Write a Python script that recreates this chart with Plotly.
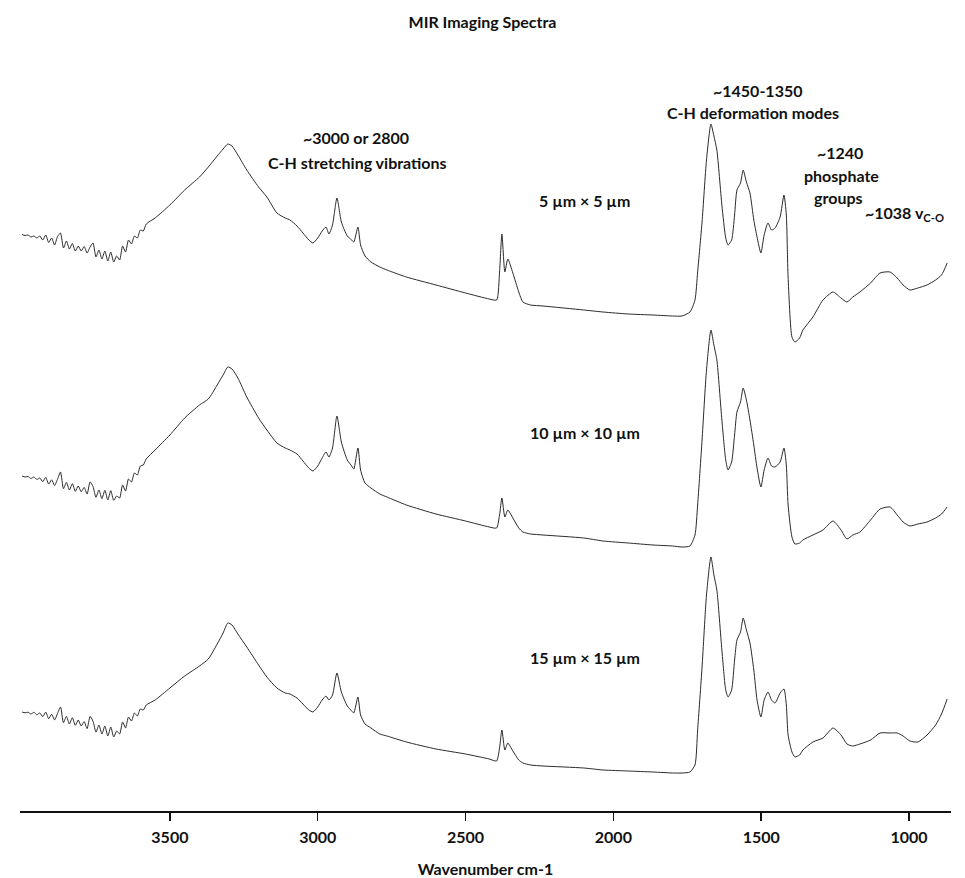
import plotly.graph_objects as go

# Shared wavenumber grid (cm-1)
wavenumber = [
    4000, 3990, 3980, 3970, 3960, 3950, 3940, 3930, 3920, 3910,
    3900, 3890, 3880, 3870, 3860, 3850, 3840, 3830, 3820, 3810,
    3800, 3790, 3780, 3770, 3760, 3750, 3740, 3730, 3720, 3710,
    3700, 3690, 3680, 3670, 3660, 3650, 3640, 3630, 3620, 3610,
    3600, 3590, 3580,
    3550, 3500, 3450, 3400, 3370, 3340, 3320, 3304, 3290, 3270,
    3240, 3200, 3172, 3138, 3110, 3094, 3070, 3050, 3030, 3016,
    3000, 2985, 2972, 2962, 2950, 2935, 2920, 2900, 2885, 2878,
    2864, 2855, 2840, 2820, 2790, 2766, 2700, 2600, 2500, 2420,
    2395, 2385, 2377, 2367, 2357, 2340, 2320, 2306, 2280, 2238,
    2100, 2035, 1950, 1866, 1800, 1768, 1741, 1724, 1715, 1700,
    1685, 1670, 1660, 1650, 1633, 1620, 1612, 1600, 1590, 1582,
    1570, 1561, 1550, 1538, 1525, 1514, 1501, 1490, 1477, 1465,
    1453, 1436, 1423, 1415, 1409, 1396, 1386, 1370, 1359, 1325,
    1291, 1257, 1230, 1210, 1190, 1166, 1130, 1098, 1064, 1040,
    1020, 997, 970, 939, 910, 890, 871,
]

# Stacked absorbance (arbitrary units, vertically offset spectra)
spec_5um = [
    5.765, 5.755, 5.76, 5.74, 5.75, 5.73, 5.75, 5.71, 5.76, 5.685,
    5.73, 5.66, 5.745, 5.78, 5.63, 5.70, 5.62, 5.675, 5.60, 5.65,
    5.60, 5.645, 5.58, 5.64, 5.68, 5.54, 5.61, 5.52, 5.60, 5.50,
    5.59, 5.49, 5.55, 5.51, 5.65, 5.59, 5.71, 5.67, 5.75, 5.73,
    5.81, 5.80, 5.87,
    5.93, 6.06, 6.21, 6.34, 6.44, 6.55, 6.62, 6.67, 6.65, 6.56,
    6.41, 6.24, 6.14, 5.98, 5.93, 5.91, 5.85, 5.78, 5.71, 5.68,
    5.73, 5.80, 5.84, 5.77, 5.86, 6.13, 5.89, 5.75, 5.71, 5.69,
    5.84, 5.66, 5.55, 5.49, 5.44, 5.41, 5.34, 5.26, 5.18, 5.12,
    5.11, 5.39, 5.77, 5.39, 5.52, 5.38, 5.19, 5.09, 5.06, 5.05,
    5.01, 4.99, 4.97, 4.96, 4.95, 4.95, 4.99, 5.11, 5.39, 5.89,
    6.51, 6.87, 6.75, 6.61, 6.06, 5.73, 5.66, 5.71, 5.96, 6.21,
    6.28, 6.41, 6.29, 6.18, 5.91, 5.74, 5.58, 5.76, 5.88, 5.81,
    5.83, 5.94, 6.16, 5.96, 5.34, 4.74, 4.69, 4.73, 4.81, 4.94,
    5.11, 5.19, 5.13, 5.09, 5.14, 5.19, 5.28, 5.38, 5.39, 5.33,
    5.26, 5.21, 5.23, 5.26, 5.31, 5.36, 5.48,
]

spec_10um = [
    3.35, 3.34, 3.345, 3.325, 3.34, 3.315, 3.33, 3.293, 3.336, 3.269,
    3.312, 3.255, 3.318, 3.39, 3.223, 3.287, 3.21, 3.273, 3.197, 3.25,
    3.193, 3.236, 3.169, 3.291, 3.244, 3.137, 3.21, 3.123, 3.207, 3.11,
    3.203, 3.107, 3.15, 3.13, 3.26, 3.20, 3.32, 3.29, 3.38, 3.36,
    3.45, 3.46, 3.52,
    3.61, 3.76, 3.93, 4.06, 4.12, 4.26, 4.36, 4.44, 4.42, 4.33,
    4.14, 3.93, 3.81, 3.68, 3.63, 3.61, 3.57, 3.50, 3.43, 3.40,
    3.45, 3.53, 3.59, 3.54, 3.63, 3.95, 3.69, 3.51, 3.45, 3.42,
    3.63, 3.41, 3.28, 3.23, 3.17, 3.14, 3.06, 2.97, 2.90, 2.84,
    2.83, 2.96, 3.13, 2.94, 3.01, 2.93, 2.83, 2.79, 2.77, 2.76,
    2.73, 2.70, 2.68, 2.66, 2.65, 2.64, 2.65, 2.76, 3.06, 3.71,
    4.41, 4.81, 4.66, 4.51, 3.91, 3.51, 3.41, 3.49, 3.76, 3.99,
    4.09, 4.23, 4.11, 3.91, 3.66, 3.43, 3.24, 3.41, 3.53, 3.45,
    3.44, 3.49, 3.63, 3.46, 3.06, 2.74, 2.67, 2.68, 2.71, 2.76,
    2.81, 2.90, 2.81, 2.72, 2.76, 2.79, 2.91, 3.02, 3.04, 2.96,
    2.89, 2.85, 2.87, 2.89, 2.93, 2.97, 3.04,
]

spec_15um = [
    0.99, 0.982, 0.988, 0.97, 0.987, 0.963, 0.98, 0.944, 0.989, 0.923,
    0.967, 0.911, 0.976, 1.04, 0.883, 0.947, 0.87, 0.933, 0.857, 0.91,
    0.851, 0.893, 0.824, 0.946, 0.897, 0.789, 0.86, 0.77, 0.85, 0.75,
    0.84, 0.74, 0.80, 0.77, 0.89, 0.83, 0.94, 0.90, 0.98, 0.95,
    1.02, 1.01, 1.06,
    1.11, 1.23, 1.35, 1.45, 1.52, 1.67, 1.78, 1.88, 1.86, 1.77,
    1.64, 1.46, 1.34, 1.23, 1.18, 1.17, 1.13, 1.07, 1.01, 0.99,
    1.04, 1.11, 1.15, 1.11, 1.16, 1.38, 1.19, 1.05, 1.00, 0.98,
    1.14, 0.96, 0.87, 0.83, 0.77, 0.75, 0.69, 0.62, 0.57, 0.52,
    0.50, 0.63, 0.81, 0.61, 0.68, 0.60, 0.51, 0.48, 0.46, 0.45,
    0.43, 0.41, 0.40, 0.39, 0.38, 0.38, 0.39, 0.46, 0.81, 1.44,
    2.16, 2.54, 2.36, 2.21, 1.61, 1.21, 1.14, 1.21, 1.51, 1.71,
    1.79, 1.93, 1.81, 1.68, 1.41, 1.11, 0.94, 1.11, 1.19, 1.11,
    1.08, 1.18, 1.22, 1.06, 0.76, 0.59, 0.54, 0.56, 0.61, 0.69,
    0.73, 0.83, 0.76, 0.67, 0.65, 0.67, 0.71, 0.78, 0.78, 0.78,
    0.75, 0.70, 0.69, 0.76, 0.86, 0.97, 1.12,
]

series_names = ["5 µm × 5 µm", "10 µm × 10 µm", "15 µm × 15 µm"]
tick_values = [3500, 3000, 2500, 2000, 1500, 1000]

FONT = "Lato, 'Open Sans', sans-serif"

fig = go.Figure()
for name, ys in zip(series_names, [spec_5um, spec_10um, spec_15um]):
    fig.add_trace(go.Scatter(
        x=wavenumber, y=ys, mode="lines", name=name,
        line=dict(color="#2b2b2b", width=1, shape="spline", smoothing=0.6),
        showlegend=False, hoverinfo="skip",
    ))

bold = dict(family=FONT, size=16, color="#111111", weight="bold")

annotations = [
    ("~3000 or 2800", 2871, 6.74, "center"),
    ("C-H stretching vibrations", 2867, 6.49, "center"),
    (series_names[0], 2096, 6.11, "center"),
    (series_names[1], 2096, 3.79, "center"),
    (series_names[2], 2096, 1.54, "center"),
    ("~1450-1350", 1511, 7.21, "center"),
    ("C-H deformation modes", 1528, 6.99, "center"),
    ("~1240", 1233, 6.59, "center"),
    ("phosphate", 1230, 6.36, "center"),
    ("groups", 1237, 6.14, "center"),
    ("~1038 v<sub>C-O</sub>", 1155, 5.98, "left"),
]
for text, x, y, xa in annotations:
    fig.add_annotation(
        x=x, y=y, xref="x", yref="y", text=text, showarrow=False,
        xanchor=xa, yanchor="middle", font=bold,
    )

fig.update_layout(
    width=965, height=878,
    margin=dict(l=20, r=14, t=60, b=67),
    paper_bgcolor="white", plot_bgcolor="white",
    title=dict(
        text="MIR Imaging Spectra", x=0.5, xanchor="center",
        y=1 - 22 / 878, yanchor="middle", yref="container",
        font=dict(family=FONT, size=16, color="#111111", weight="bold"),
    ),
    xaxis=dict(
        range=[4007, 858],
        automargin=False,
        tickvals=tick_values,
        ticktext=[str(v) for v in tick_values],
        ticks="outside", ticklen=8, tickwidth=1.5, tickcolor="#111111",
        ticklabelstandoff=3,
        showline=True, linewidth=2, linecolor="#111111",
        showgrid=False, zeroline=False,
        tickfont=dict(family=FONT, size=16, color="#111111", weight="bold"),
        title=dict(text="Wavenumber cm-1", standoff=22,
                   font=dict(family=FONT, size=16, color="#111111", weight="bold")),
    ),
    yaxis=dict(range=[0, 7.51], visible=False, showgrid=False, zeroline=False,
               automargin=False),
)

fig.write_html(
    "out.html",
    config={"displayModeBar": False, "staticPlot": True},
    post_script="document.body.style.margin='0px';document.body.style.padding='0px';",
)
